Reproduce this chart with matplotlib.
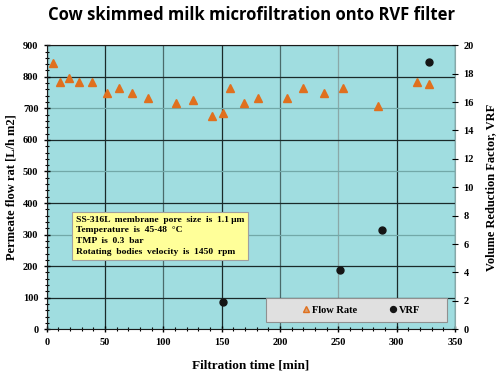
import matplotlib.pyplot as plt
from matplotlib.patches import Rectangle
from matplotlib.ticker import MultipleLocator

# Flow rate (left axis)
flow_time = [5, 11, 19, 28, 39, 52, 62, 73, 87, 111, 125, 142, 151, 157, 169,
             181, 206, 220, 238, 254, 284, 317, 328]
flow_rate = [845, 782, 797, 782, 782, 750, 765, 750, 733, 717, 725, 677, 684, 765, 717,
             733, 733, 765, 750, 765, 708, 782, 777]

# Volume reduction factor (right axis)
vrf_time = [151, 251, 287, 328]
vrf = [1.9, 4.2, 7.0, 18.8]

note_lines = ["SS-316L  membrane  pore  size  is  1.1 \u03bcm",
              "Temperature  is  45-48  \u00b0C",
              "TMP  is  0.3  bar",
              "Rotating  bodies  velocity  is  1450  rpm"]

serif = "Liberation Serif"
fig = plt.figure(figsize=(5.04, 3.77), dpi=100)
ax = fig.add_axes([0.0927, 0.1265, 0.8103, 0.7535])
ax.set_facecolor("#A0DDE0")

ax.plot(flow_time, flow_rate, "^", color="#E0701E", ms=5.5, mec="#E0701E",
        label="Flow Rate", zorder=3)
ax.set_xlim(0, 350)
ax.set_ylim(0, 900)
ax.xaxis.set_major_locator(MultipleLocator(50))
ax.xaxis.set_minor_locator(MultipleLocator(10))
ax.yaxis.set_major_locator(MultipleLocator(100))
ax.yaxis.set_minor_locator(MultipleLocator(20))
ax.grid(True, which="major", color="#1a2a2a", lw=0.9)
ax.set_axisbelow(True)

# lighter grid lines like the original
for i, gl in enumerate(ax.get_xgridlines()):
    if i in (3, 5):
        gl.set_color("#4a6a6a")
    if i == 6:
        gl.set_color("#8aa8a8")
for i, gl in enumerate(ax.get_ygridlines()):
    if i in (1, 4, 6, 8):
        gl.set_color("#72a8a8")

ax.tick_params(which="both", direction="inout", labelsize=7.5)
ax.tick_params(which="major", length=5, width=1)
ax.tick_params(which="minor", length=3, width=0.8)
for lab in ax.get_xticklabels() + ax.get_yticklabels():
    lab.set_family(serif)
    lab.set_fontweight("bold")
for s in ["left", "bottom", "top"]:
    ax.spines[s].set_color("#1a1a1a")
ax.spines["right"].set_color("#8aa8a8")

ax.set_xlabel("Filtration time [min]", family=serif, fontweight="bold",
              fontsize=9.5, labelpad=9)
ax.set_ylabel("Permeate flow rat [L/h m2]", family=serif, fontweight="bold",
              fontsize=9)

ax2 = ax.twinx()
ax2.plot(vrf_time, vrf, "o", color="#151515", ms=5, label="VRF", zorder=3)
ax2.set_ylim(0, 20)
ax2.yaxis.set_major_locator(MultipleLocator(2))
ax2.tick_params(direction="inout", length=5, labelsize=7.5)
for lab in ax2.get_yticklabels():
    lab.set_family(serif)
    lab.set_fontweight("bold")
for s in ax2.spines.values():
    s.set_visible(False)
ax2.set_ylabel("Volume Reduction Factor, VRF", family=serif, fontweight="bold",
               fontsize=9, labelpad=8)

# note box
ax.text(25, 360, "\n".join(note_lines), family=serif, fontweight="bold",
        fontsize=6.8, va="top", ha="left", linespacing=1.45,
        bbox=dict(boxstyle="square,pad=0.4", facecolor="#FFFF99",
                  edgecolor="#a0a0a0", lw=0.8), zorder=4)

# legend: grey box drawn separately, entries placed inside
ax2.add_patch(Rectangle((0.537, 0.026), 0.443, 0.084, transform=ax2.transAxes,
                        facecolor="#E0E0E0", edgecolor="#909090", lw=0.8,
                        zorder=4))
h1, l1 = ax.get_legend_handles_labels()
h2, l2 = ax2.get_legend_handles_labels()
leg = ax2.legend(h1 + h2, l1 + l2, ncol=2, loc="center",
                 bbox_to_anchor=(0.768, 0.068), frameon=False,
                 prop={"family": serif, "weight": "bold", "size": 7.5},
                 markerscale=0.85, handletextpad=0.05, columnspacing=3.0,
                 handlelength=1.0, borderpad=0)
leg.set_zorder(5)
leg.legend_handles[0].set_color("#D9A070")

fig.text(0.5, 0.96, "Cow skimmed milk microfiltration onto RVF filter",
         ha="center", va="center", fontsize=12, family="Open Sans",
         fontweight="bold")

fig.savefig("out.png", dpi=100)
